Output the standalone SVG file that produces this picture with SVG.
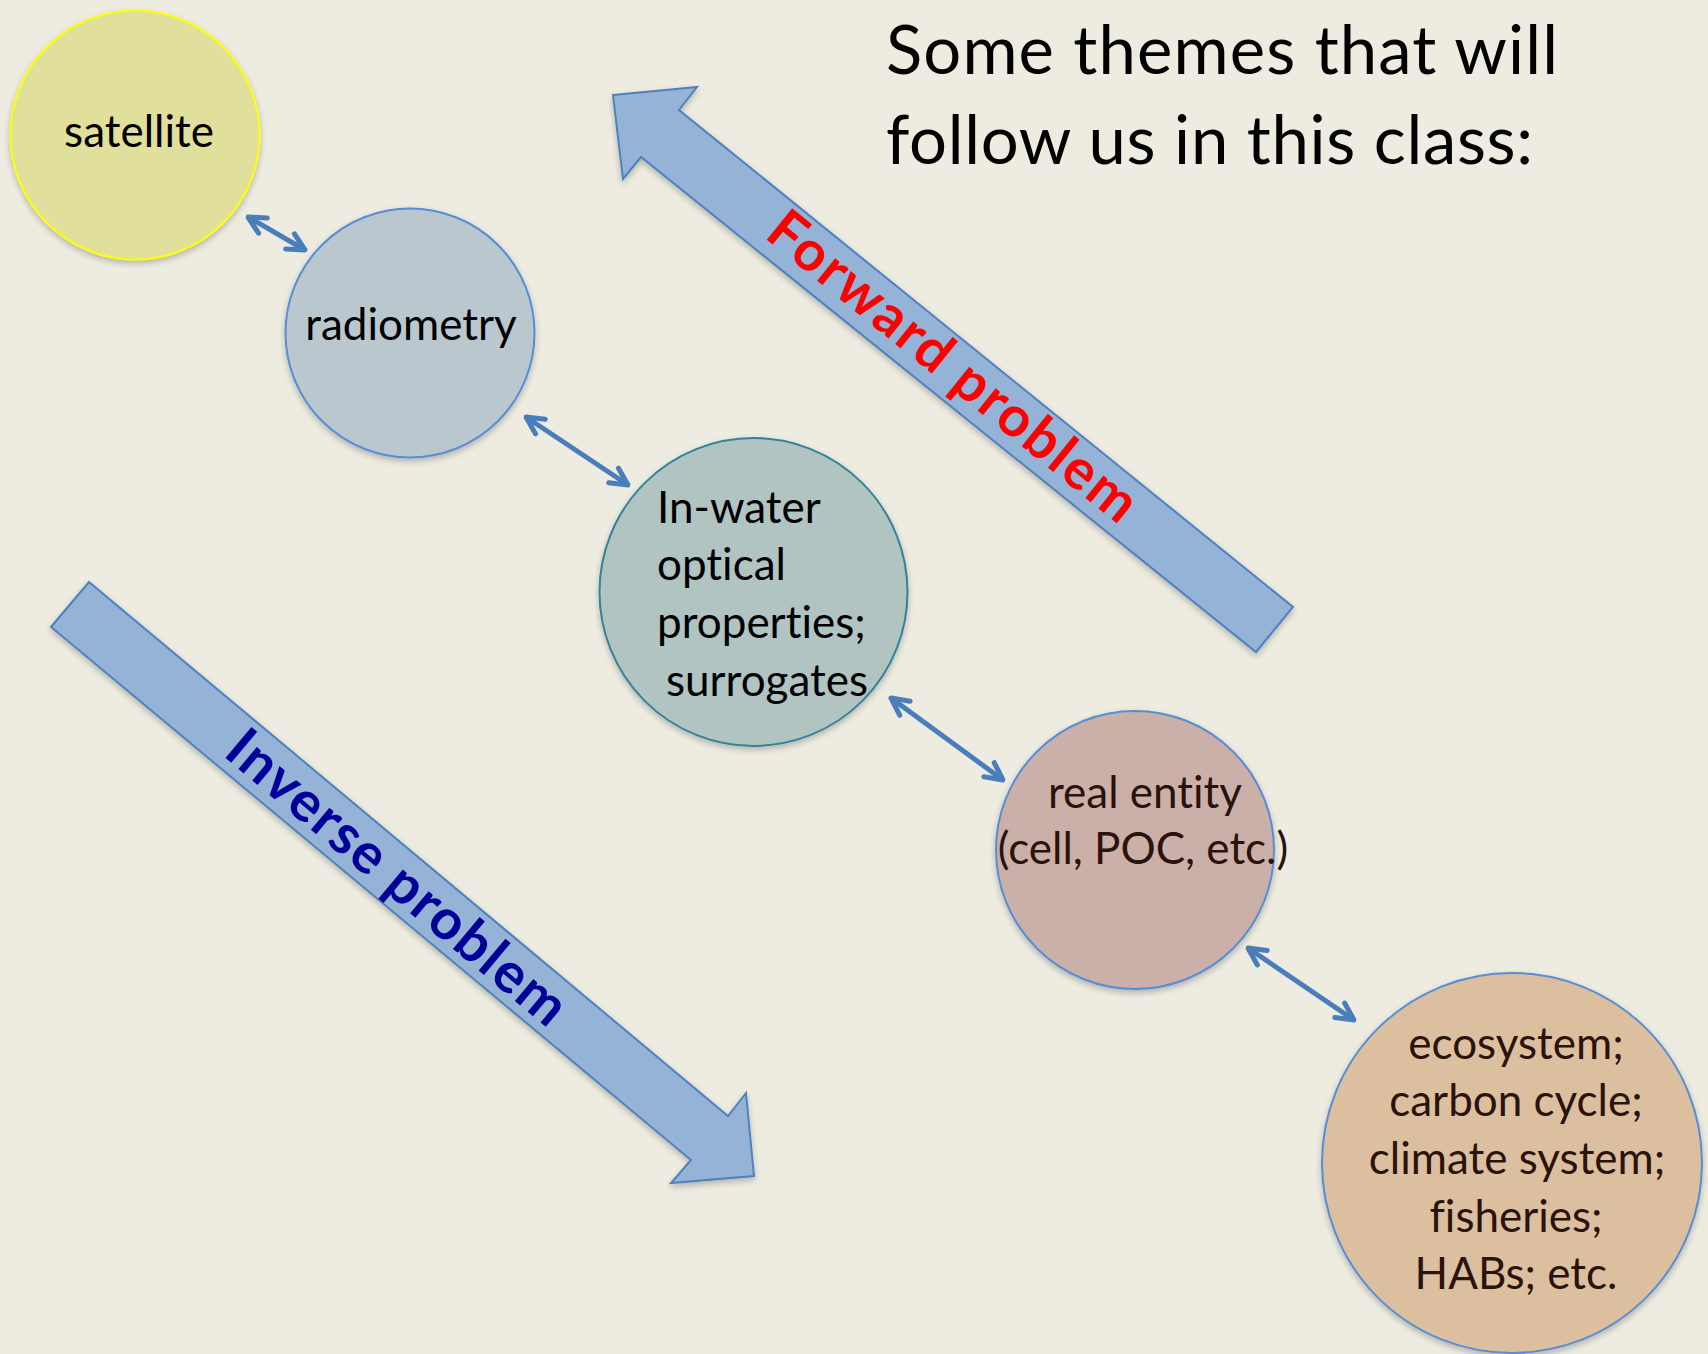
<svg xmlns="http://www.w3.org/2000/svg" width="1708" height="1354" viewBox="0 0 1708 1354">
<defs>
<style>
text{font-variant-ligatures:none;font-feature-settings:"liga" 0,"clig" 0}
.node-label{font-family:Lato,"Liberation Sans",sans-serif;font-size:44px;fill:#000}
.brown{fill:#2a130b}
.title{font-family:Lato,"Liberation Sans",sans-serif;font-size:67px;fill:#000}
.big{font-family:Lato,"Liberation Sans",sans-serif;font-weight:bold;font-size:56px}
.blk{fill:#95b3d7;stroke:#4f81bd;stroke-width:2;stroke-linejoin:miter}
.conn{stroke:#4a7ebb;stroke-width:5;fill:none;marker-start:url(#ah);marker-end:url(#ah)}
.circ{stroke-width:2}
</style>
<marker id="ah" viewBox="0 0 10 10" refX="9" refY="5" markerWidth="4.6" markerHeight="4.6" orient="auto-start-reverse" markerUnits="strokeWidth">
<path d="M1.5,1.2 L9,5 L1.5,8.8" fill="none" stroke="#4a7ebb" stroke-width="2.2" stroke-linecap="round" stroke-linejoin="round"/>
</marker>
<filter id="sh" x="-10%" y="-10%" width="130%" height="130%">
<feGaussianBlur in="SourceAlpha" stdDeviation="3"/>
<feOffset dx="0" dy="3"/>
<feComponentTransfer><feFuncA type="linear" slope="0.25"/></feComponentTransfer>
<feMerge><feMergeNode/><feMergeNode in="SourceGraphic"/></feMerge>
</filter>
</defs>
<rect x="0" y="0" width="1708" height="1354" fill="#eeece1"/>

<g id="title">
<text class="title" x="886" y="74" textLength="672">Some themes that will</text>
<text class="title" x="886" y="164" textLength="647">follow us in this class:</text>
</g>

<g id="forward-problem">
<polygon class="blk" filter="url(#sh)" points="613,95 697,87 679,110 1293,607 1256,652 641,157 623,179"/>
<text class="big" fill="#ff0000" transform="translate(952,368) rotate(39)" x="0" y="17" text-anchor="middle" textLength="458">Forward problem</text>
</g>

<g id="inverse-problem">
<polygon class="blk" filter="url(#sh)" points="89,582 728,1116 746,1093 754,1176 671,1183 691,1160 51,627"/>
<text class="big" fill="#000099" transform="translate(396,879) rotate(40)" x="0" y="17" text-anchor="middle" textLength="426">Inverse problem</text>
</g>

<g id="satellite">
<circle class="circ" filter="url(#sh)" cx="135" cy="135" r="124.5" fill="#e1df9c" stroke="#ffff00"/>
<text class="node-label" x="139" y="147" text-anchor="middle">satellite</text>
</g>

<g id="radiometry">
<circle class="circ" filter="url(#sh)" cx="410" cy="333" r="124.5" fill="#bbc7cf" stroke="#558ed5"/>
<text class="node-label" x="411" y="340" text-anchor="middle">radiometry</text>
</g>

<g id="in-water">
<circle class="circ" filter="url(#sh)" cx="753.5" cy="592" r="154" fill="#b1c4c1" stroke="#31849b"/>
<text class="node-label" x="657" y="523">In-water</text>
<text class="node-label" x="657" y="580">optical</text>
<text class="node-label" x="657" y="638">properties;</text>
<text class="node-label" x="666" y="696">surrogates</text>
</g>

<g id="real-entity">
<circle class="circ" filter="url(#sh)" cx="1135" cy="850" r="139" fill="#cab0a8" stroke="#558ed5"/>
<text class="node-label brown" x="1145" y="808" text-anchor="middle">real entity</text>
<text class="node-label brown" x="1143" y="864" text-anchor="middle">(cell, POC, etc.)</text>
</g>

<g id="ecosystem">
<circle class="circ" filter="url(#sh)" cx="1512" cy="1163" r="190" fill="#dbbf9f" stroke="#558ed5"/>
<text class="node-label brown" x="1516" y="1059" text-anchor="middle">ecosystem;</text>
<text class="node-label brown" x="1516" y="1116" text-anchor="middle">carbon cycle;</text>
<text class="node-label brown" x="1517" y="1174" text-anchor="middle">climate system;</text>
<text class="node-label brown" x="1516" y="1232" text-anchor="middle">fisheries;</text>
<text class="node-label brown" x="1516" y="1289" text-anchor="middle">HABs; etc.</text>
</g>

<g id="connectors">
<line class="conn" x1="248" y1="217" x2="305" y2="250"/>
<line class="conn" x1="526" y1="417" x2="628" y2="485"/>
<line class="conn" x1="891" y1="698" x2="1003" y2="780"/>
<line class="conn" x1="1248" y1="948" x2="1354" y2="1020"/>
</g>
</svg>
